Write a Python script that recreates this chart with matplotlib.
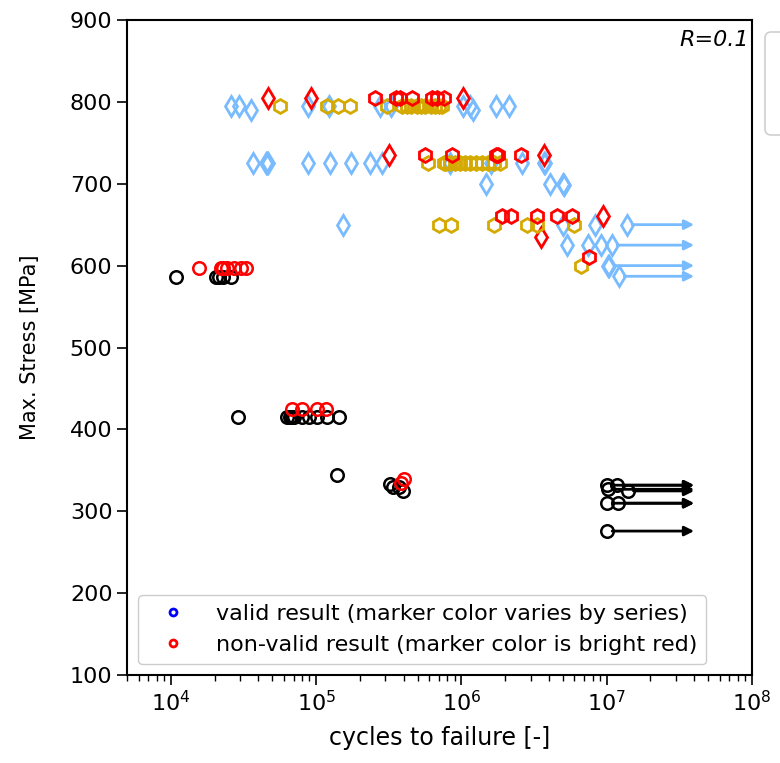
import matplotlib.pyplot as plt
from matplotlib.lines import Line2D
from matplotlib.patches import FancyBboxPatch

# series A: light blue diamonds
a_valid_n = [2.6e4, 2.95e4, 3.55e4, 8.8e4, 1.23e5, 2.76e5, 3.3e5, 1.02e6, 1.15e6, 1.21e6, 1.74e6, 2.14e6,
             3.7e4, 4.5e4, 4.6e4, 4.7e4, 8.8e4, 1.25e5, 1.74e5, 2.36e5, 2.85e5, 8.3e5, 1.6e6, 2.6e6, 3.7e6, 3.75e6,
             1.47e6, 4.05e6, 5.0e6, 5.1e6,
             1.54e5, 4.97e6, 8.26e6,
             5.3e6, 7.4e6, 9.1e6,
             1.02e7]
a_valid_s = [795, 795, 790, 795, 795, 795, 795, 795, 795, 790, 795, 795,
             725, 725, 725, 725, 725, 725, 725, 725, 725, 725, 725, 725, 725, 725,
             700, 700, 700, 698,
             650, 650, 650,
             625, 625, 625,
             600]
a_runout_n = [1.37e7, 1.08e7, 1.04e7, 1.21e7]
a_runout_s = [650, 625, 600, 587]
a_invalid_n = [4.67e4, 9.24e4, 1.02e6, 3.19e5, 3.68e6, 9.38e6, 3.51e6]
a_invalid_s = [805, 805, 805, 735, 735, 660, 635]

# series B: gold hexagons
b_valid_n = [5.65e4, 1.19e5, 1.42e5, 1.72e5, 3.09e5, 3.92e5, 4.2e5, 4.5e5, 4.97e5, 5.3e5, 5.6e5, 6.2e5, 6.6e5, 7.05e5, 7.3e5,
             5.92e5, 7.64e5, 7.88e5, 8.3e5, 9.0e5, 9.8e5, 1.06e6, 1.15e6, 1.27e6, 1.39e6, 1.53e6, 1.69e6, 1.83e6,
             7.05e5, 8.5e5, 1.69e6, 2.81e6, 3.29e6, 5.92e6,
             6.62e6]
b_valid_s = [795, 795, 795, 795, 795, 795, 795, 795, 795, 795, 795, 795, 795, 795, 795,
             725, 725, 725, 725, 725, 725, 725, 725, 725, 725, 725, 725, 725,
             650, 650, 650, 650, 650, 650,
             600]
b_invalid_n = [2.55e5, 3.56e5, 3.75e5, 4.59e5, 6.31e5, 6.8e5, 7.64e5,
               5.65e5, 8.67e5, 1.74e6, 1.8e6, 2.59e6,
               1.89e6, 2.18e6, 3.29e6, 4.52e6, 5.74e6,
               7.52e6]
b_invalid_s = [805, 805, 805, 805, 805, 805, 805,
               735, 735, 735, 735, 735,
               660, 660, 660, 660, 660,
               610]

# series C: black circles
c_valid_n = [1.08e4, 2.04e4, 2.14e4, 2.29e4, 2.59e4,
             2.9e4, 6.31e4, 6.6e4, 6.83e4, 7.05e4, 8.0e4, 8.95e4, 1.02e5, 1.19e5, 1.44e5,
             1.4e5,
             3.2e5, 3.4e5, 3.7e5, 3.98e5]
c_valid_s = [586, 586, 586, 586, 586,
             415, 415, 415, 415, 415, 415, 415, 415, 415, 415,
             345,
             333, 330, 330, 325]
c_runout_n = [1.0e7, 1.17e7, 1.02e7, 1.4e7, 1.0e7, 1.2e7, 1.0e7]
c_runout_s = [332, 332, 327, 325, 310, 310, 276]
c_invalid_n = [1.56e4, 2.21e4, 2.3e4, 2.43e4, 2.72e4, 3.04e4, 3.29e4,
               6.83e4, 8.0e4, 1.02e5, 1.17e5,
               3.86e5, 4.05e5]
c_invalid_s = [597, 597, 597, 597, 597, 597, 597,
               425, 425, 425, 425,
               335, 340]

runout_end = 4e7
BLUE = "#78bbff"
GOLD = "#d4aa00"
RED = "#ff0000"

fig = plt.figure(figsize=(7.8, 7.63), dpi=100)
ax = fig.add_axes([0.163, 0.115, 0.801, 0.859])


def runouts(ns, ss, color, marker, ms, mew):
    for n, s in zip(ns, ss):
        ax.annotate("", xy=(runout_end, s), xytext=(n, s),
                    arrowprops=dict(arrowstyle="-|>", color=color, lw=2,
                                    mutation_scale=14, shrinkA=4, shrinkB=0),
                    zorder=2)
    ax.plot(ns, ss, ls="none", marker=marker, ms=ms, mfc="none", mec=color, mew=mew, zorder=3)


ax.plot(a_valid_n, a_valid_s, ls="none", marker="d", ms=10, mfc="none", mec=BLUE, mew=2, zorder=3)
runouts(a_runout_n, a_runout_s, BLUE, "d", 10, 2)
ax.plot(a_invalid_n, a_invalid_s, ls="none", marker="d", ms=10, mfc="none", mec=RED, mew=2, zorder=3)

ax.plot(b_valid_n, b_valid_s, ls="none", marker="h", ms=10, mfc="none", mec=GOLD, mew=2, zorder=3)
ax.plot(b_invalid_n, b_invalid_s, ls="none", marker="h", ms=10, mfc="none", mec=RED, mew=2, zorder=3)

ax.plot(c_valid_n, c_valid_s, ls="none", marker="o", ms=9, mfc="none", mec="black", mew=1.8, zorder=3)
runouts(c_runout_n, c_runout_s, "black", "o", 9, 1.8)
ax.plot(c_invalid_n, c_invalid_s, ls="none", marker="o", ms=9, mfc="none", mec=RED, mew=1.8, zorder=3)

ax.set_xscale("log")
ax.set_xlim(5e3, 1e8)
ax.set_ylim(100, 900)
ax.set_xlabel("cycles to failure [-]", fontsize=17, labelpad=8)
ax.set_ylabel("Max. Stress [MPa]", fontsize=15)
ax.yaxis.set_label_coords(-0.14, 0.5)
ax.tick_params(axis="both", which="major", labelsize=16, length=7, width=1.2)
ax.tick_params(axis="x", which="minor", length=4, width=1)
for sp in ax.spines.values():
    sp.set_linewidth(1.5)

ax.text(0.995, 0.985, "R=0.1", transform=ax.transAxes, ha="right", va="top",
        fontsize=16, style="italic")

handles = [
    Line2D([], [], ls="none", marker="o", ms=5, mfc="none", mec="blue", mew=2),
    Line2D([], [], ls="none", marker="o", ms=5, mfc="none", mec="red", mew=2),
]
ax.legend(handles, ["valid result (marker color varies by series)",
                    "non-valid result (marker color is bright red)"],
          loc="lower left", fontsize=16, handlelength=2.3, handletextpad=0.8,
          borderaxespad=0.5, framealpha=1)

# series legend sitting outside the axes, cut off by the figure edge
fig.patches.append(FancyBboxPatch((765 / 780, 1 - 135 / 763), 0.2, 103 / 763,
                                  boxstyle="round,pad=0,rounding_size=0.008",
                                  transform=fig.transFigure, fc="white",
                                  ec="#d0d0d0", lw=1.2))

fig.savefig("out.png", dpi=100)
